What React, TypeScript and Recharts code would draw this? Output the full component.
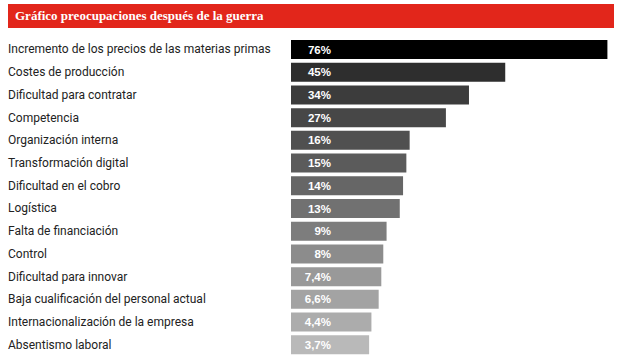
import { Bar, BarChart, Cell, LabelList, XAxis, YAxis } from "recharts";

const TITLE = "Gráfico preocupaciones después de la guerra";

const CATEGORIES = [
  "Incremento de los precios de las materias primas",
  "Costes de producción",
  "Dificultad para contratar",
  "Competencia",
  "Organización interna",
  "Transformación digital",
  "Dificultad en el cobro",
  "Logística",
  "Falta de financiación",
  "Control",
  "Dificultad para innovar",
  "Baja cualificación del personal actual",
  "Internacionalización de la empresa",
  "Absentismo laboral",
];

const VALUES = [76, 45, 34, 27, 16, 15, 14, 13, 9, 8, 7.4, 6.6, 4.4, 3.7];

const COLORS = [
  "#000000",
  "#2e2e2e",
  "#3c3c3c",
  "#474747",
  "#505050",
  "#5b5b5b",
  "#666666",
  "#717171",
  "#7d7d7d",
  "#8c8c8c",
  "#999999",
  "#a3a3a3",
  "#acacac",
  "#b9b9b9",
];

// el eje no arranca en cero: las barras salen desde este suelo
const AXIS_FLOOR = -20;
const AXIS_MAX = 78;

const fmt = (v: number) => String(v).replace(".", ",") + "%";

const rows = CATEGORIES.map((name, i) => ({
  name,
  value: VALUES[i],
  label: fmt(VALUES[i]),
}));

function CategoryTick(props: any) {
  const { y, payload } = props;
  return (
    <text
      x={8}
      y={y}
      dy={4}
      textAnchor="start"
      fill="#222222"
      fontSize={12}
      fontFamily="Roboto, sans-serif"
    >
      {payload.value}
    </text>
  );
}

function ValueLabel(props: any) {
  const { x, y, height, value } = props;
  return (
    <text
      x={Number(x) + 40}
      y={Number(y) + Number(height) / 2}
      dy={4}
      textAnchor="end"
      fill="#ffffff"
      fontSize={11.5}
      fontWeight="bold"
      fontFamily="'Liberation Sans', Arial, sans-serif"
    >
      {value}
    </text>
  );
}

export default function App() {
  return (
    <div style={{ position: "relative", width: 627, height: 362, background: "#fff" }}>
      <style>{`body{margin:0}`}</style>
      <div
        style={{
          position: "absolute",
          left: 8,
          top: 4,
          width: 606,
          height: 24,
          background: "#e2261b",
          color: "#fff",
          fontFamily: "'Liberation Serif', 'DejaVu Serif', serif",
          fontWeight: "bold",
          fontSize: 13,
          lineHeight: "24px",
          paddingLeft: 7,
          boxSizing: "border-box",
        }}
      >
        {TITLE}
      </div>
      <BarChart
        width={627}
        height={362}
        layout="vertical"
        data={rows}
        margin={{ top: 38, right: 13, left: 0, bottom: 6 }}
        style={{ position: "absolute", left: 0, top: 0 }}
      >
        <XAxis type="number" domain={[AXIS_FLOOR, AXIS_MAX]} hide />
        <YAxis
          type="category"
          dataKey="name"
          width={291}
          axisLine={false}
          tickLine={false}
          interval={0}
          tick={<CategoryTick />}
        />
        <Bar
          dataKey={(d: any) => [AXIS_FLOOR, d.value]}
          barSize={19}
          isAnimationActive={false}
        >
          {rows.map((_, i) => (
            <Cell key={i} fill={COLORS[i]} />
          ))}
          <LabelList dataKey="label" content={<ValueLabel />} />
        </Bar>
      </BarChart>
    </div>
  );
}
